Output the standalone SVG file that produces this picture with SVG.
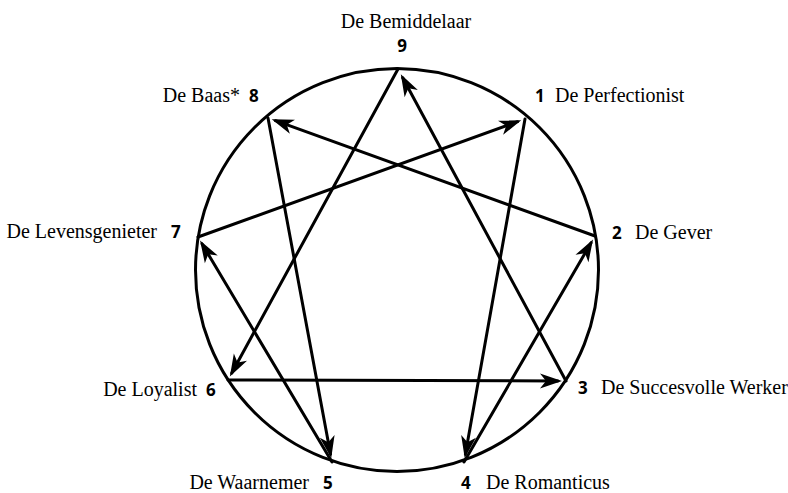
<svg xmlns="http://www.w3.org/2000/svg" width="788" height="493" viewBox="0 0 788 493">
<style>
.name{font-family:"Liberation Serif","Times New Roman",serif;font-size:20px;fill:#000}
.num{font-family:"Open Sans","DejaVu Sans",sans-serif;font-weight:700;font-size:17px;fill:#000}
.edge{stroke:#000;stroke-width:3;fill:none;stroke-linecap:round;marker-end:url(#arr)}
</style>
<defs>
<marker id="arr" markerUnits="userSpaceOnUse" viewBox="-24 -10 26 20" refX="-4" refY="0" markerWidth="26" markerHeight="20" orient="auto">
<path d="M0,0 L-22,-7.5 L-16,0 L-22,7.5 Z" fill="#000"/>
</marker>
</defs>
<rect width="788" height="493" fill="#fff"/>
<circle id="ring" cx="397" cy="270" r="201.5" fill="none" stroke="#000" stroke-width="3"/>
<g id="connectors">
<line class="edge" x1="525" y1="119" x2="465.4" y2="454.1"/>
<line class="edge" x1="464" y1="462" x2="591.0" y2="242.9"/>
<line class="edge" x1="595" y1="236" x2="275.5" y2="120.7"/>
<line class="edge" x1="268" y1="118" x2="330.5" y2="454.1"/>
<line class="edge" x1="332" y1="462" x2="202.1" y2="243.9"/>
<line class="edge" x1="198" y1="237" x2="517.5" y2="121.7"/>
<line class="edge" x1="398" y1="69" x2="231.8" y2="373.0"/>
<line class="edge" x1="228" y1="380" x2="558" y2="381"/>
<line class="edge" x1="566" y1="381" x2="402.7" y2="77.8"/>
</g>
<g id="node-9">
<text class="name" x="406" y="28" text-anchor="middle">De Bemiddelaar</text>
<text class="num" x="402" y="52" text-anchor="middle">9</text>
</g>
<g id="node-8">
<text class="name" x="240" y="102" text-anchor="end">De Baas*</text>
<text class="num" x="249" y="102">8</text>
</g>
<g id="node-1">
<text class="num" x="535" y="102">1</text>
<text class="name" x="555" y="102">De Perfectionist</text>
</g>
<g id="node-7">
<text class="name" x="157" y="238" text-anchor="end">De Levensgenieter</text>
<text class="num" x="171" y="238">7</text>
</g>
<g id="node-2">
<text class="num" x="612" y="239">2</text>
<text class="name" x="635" y="239">De Gever</text>
</g>
<g id="node-6">
<text class="name" x="197" y="396" text-anchor="end">De Loyalist</text>
<text class="num" x="206" y="396">6</text>
</g>
<g id="node-3">
<text class="num" x="578" y="394">3</text>
<text class="name" x="601" y="394">De Succesvolle Werker</text>
</g>
<g id="node-5">
<text class="name" x="309" y="489" text-anchor="end">De Waarnemer</text>
<text class="num" x="323" y="489">5</text>
</g>
<g id="node-4">
<text class="num" x="461" y="489">4</text>
<text class="name" x="486" y="489">De Romanticus</text>
</g>
</svg>
